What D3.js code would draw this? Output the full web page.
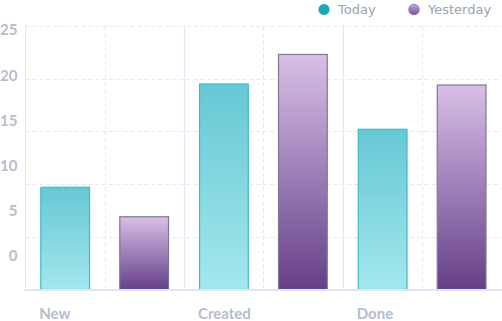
<!DOCTYPE html>
<html>
<head>
<meta charset="utf-8">
<title>Today vs Yesterday</title>
<script src="https://cdnjs.cloudflare.com/ajax/libs/d3/7.8.5/d3.min.js"></script>
<style>
  html, body { margin: 0; padding: 0; background: #fff; }
  svg { display: block; }
  .ylab { font-family: Lato, sans-serif; font-weight: 700; font-size: 15px; fill: #b5bdcc; }
  .xlab { font-family: Lato, sans-serif; font-weight: 700; font-size: 15px; fill: #b5bdcc; }
  .leg { font-family: "DejaVu Sans", sans-serif; font-size: 13px; fill: #99a3b4; }
</style>
</head>
<body>
<svg id="chart" width="502" height="321"></svg>
<script>
// data
var categories = ['New', 'Created', 'Done'];
var series = ['Today', 'Yesterday'];
var today = [9.7, 19.5, 15.2];
var yesterday = [6.9, 22.3, 19.4];
var yTicks = [0, 5, 10, 15, 20, 25];

var svg = d3.select('#chart');
var plotLeft = 25.3, plotRight = 501.5, plotTop = 26, plotBottom = 289.5;

var x0 = d3.scaleBand().domain(categories).range([plotLeft, plotRight]).padding(0);
var x1 = d3.scaleBand().domain(series).range([0, x0.bandwidth()])
  .paddingInner(0.37).paddingOuter(0.19);
var y = d3.scaleLinear().domain([0, 25]).range([plotBottom, plotTop]);
// the tick labels sit on their own, tighter scale than the grid
var yLabel = d3.scaleLinear().domain([0, 25]).range([256, 30]);

var defs = svg.append('defs');
var gT = defs.append('linearGradient').attr('id', 'gToday')
  .attr('x1', 0).attr('y1', 0).attr('x2', 0).attr('y2', 1);
gT.append('stop').attr('offset', '0%').attr('stop-color', '#66c8d4');
gT.append('stop').attr('offset', '100%').attr('stop-color', '#a3e7ed');
var gY = defs.append('linearGradient').attr('id', 'gYest')
  .attr('x1', 0).attr('y1', 0).attr('x2', 0).attr('y2', 1);
gY.append('stop').attr('offset', '0%').attr('stop-color', '#d9bfe7');
gY.append('stop').attr('offset', '100%').attr('stop-color', '#653f88');
var gL = defs.append('linearGradient').attr('id', 'gLeg')
  .attr('x1', 0).attr('y1', 0).attr('x2', 0).attr('y2', 1);
gL.append('stop').attr('offset', '0%').attr('stop-color', '#c6a6dd');
gL.append('stop').attr('offset', '100%').attr('stop-color', '#7a52a0');

// horizontal dashed grid
svg.append('g').selectAll('line').data(yTicks.filter(function(d) { return d > 0; }))
  .join('line')
  .attr('x1', plotLeft).attr('x2', plotRight + 1)
  .attr('y1', function(d) { return Math.round(y(d)) + 0.5; })
  .attr('y2', function(d) { return Math.round(y(d)) + 0.5; })
  .attr('stroke', '#e6e8ee').attr('stroke-dasharray', '4,3');

// dashed line through the middle of each category
svg.append('g').selectAll('line').data(categories).join('line')
  .attr('x1', function(d) { return Math.round(x0(d) + x0.bandwidth() / 2) + 0.5; })
  .attr('x2', function(d) { return Math.round(x0(d) + x0.bandwidth() / 2) + 0.5; })
  .attr('y1', plotTop).attr('y2', plotBottom)
  .attr('stroke', '#e6e8ee').attr('stroke-dasharray', '4,3');

// solid category separators
svg.append('g').selectAll('line').data(categories).join('line')
  .attr('x1', function(d) { return Math.round(x0(d)) + 0.5; })
  .attr('x2', function(d) { return Math.round(x0(d)) + 0.5; })
  .attr('y1', plotTop - 1).attr('y2', plotBottom)
  .attr('stroke', '#e2e7f8');
svg.append('line')
  .attr('x1', Math.round(plotRight) + 0.5).attr('x2', Math.round(plotRight) + 0.5)
  .attr('y1', plotTop).attr('y2', 210)
  .attr('stroke', '#e6e8ee').attr('stroke-dasharray', '4,3');

// bars
var rows = categories.map(function(c, i) {
  return { cat: c, vals: [{ s: 'Today', v: today[i] }, { s: 'Yesterday', v: yesterday[i] }] };
});
svg.append('g').selectAll('g').data(rows).join('g')
  .attr('transform', function(d) { return 'translate(' + x0(d.cat) + ',0)'; })
  .selectAll('rect').data(function(d) { return d.vals; }).join('rect')
  .attr('x', function(d) { return x1(d.s) + 0.5; })
  .attr('width', x1.bandwidth() - 1)
  .attr('y', function(d) { return y(d.v); })
  .attr('height', function(d) { return plotBottom - y(d.v); })
  .attr('fill', function(d) { return d.s === 'Today' ? 'url(#gToday)' : 'url(#gYest)'; })
  .attr('stroke', function(d) { return d.s === 'Today' ? '#3fbcc8' : '#747e8e'; })
  .attr('stroke-width', 1.2);

// bottom axis line
svg.append('line')
  .attr('x1', plotLeft - 1).attr('x2', plotRight + 1)
  .attr('y1', plotBottom + 0.5).attr('y2', plotBottom + 0.5)
  .attr('stroke', '#dfe4f9').attr('stroke-width', 2);

// y tick labels
svg.append('g').selectAll('text').data(yTicks).join('text')
  .attr('class', 'ylab')
  .attr('x', 17.5)
  .attr('y', function(d) { return yLabel(d); })
  .attr('dy', '0.36em')
  .attr('text-anchor', 'end')
  .text(function(d) { return d; });

// x labels, left aligned with the first bar of each group
svg.append('g').selectAll('text').data(categories).join('text')
  .attr('class', 'xlab')
  .attr('x', function(d) { return x0(d) + x1('Today') - 1; })
  .attr('y', 318.5)
  .text(function(d) { return d; });

// legend
var legX = [324, 414];
var leg = svg.append('g').selectAll('g').data(series).join('g')
  .attr('transform', function(d, i) { return 'translate(' + legX[i] + ',9.5)'; });
leg.append('circle').attr('r', 5.3)
  .attr('fill', function(d) { return d === 'Today' ? '#1aa7b9' : 'url(#gLeg)'; })
  .attr('stroke', function(d) { return d === 'Today' ? '#1aa7b9' : '#6f5a8c'; })
  .attr('stroke-width', 0.6);
leg.append('text').attr('class', 'leg')
  .attr('x', 14).attr('y', 0).attr('dy', '0.36em')
  .text(function(d) { return d; });
</script>
</body>
</html>
